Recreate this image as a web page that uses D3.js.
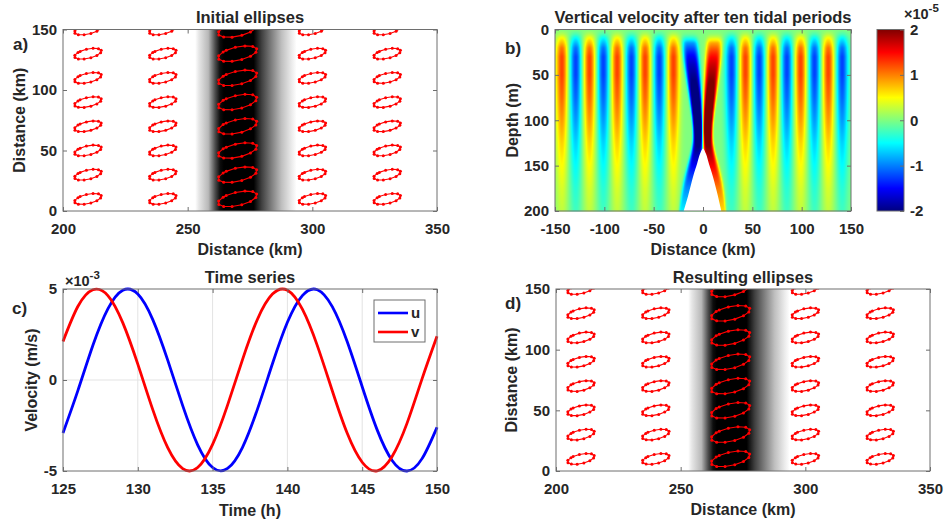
<!DOCTYPE html>
<html>
<head>
<meta charset="utf-8">
<script src="https://cdn.jsdelivr.net/npm/d3@7"></script>
<style>
  body { margin: 0; background: #fff; }
  svg { display: block; }
  text { font-family: "Liberation Sans", Arial, Helvetica, sans-serif; font-weight: bold; fill: #262626; }
</style>
</head>
<body>
<svg id="fig" width="944" height="522"></svg>
<script>
// ---------------- data ----------------
// time series, hours and velocities (units of 1e-3 m/s)
const hours = [125,126,127,128,129,130,131,132,133,134,135,136,137,138,139,140,141,142,143,144,145,146,147,148,149,150];
const uVel = [-2.91,-0.57,1.91,3.91,4.93,4.72,3.32,1.09,-1.41,-3.56,-4.81,-4.86,-3.70,-1.60,0.89,3.17,4.64,4.96,4.03,2.10,-0.37,-2.74,-4.42,-5.00,-4.32,-2.60];
const vVel = [2.12,4.05,4.96,4.64,3.14,0.87,-1.63,-3.72,-4.87,-4.81,-3.54,-1.38,1.12,3.34,4.72,4.93,3.89,1.89,-0.59,-2.93,-4.52,-4.99,-4.20,-2.37,0.06,2.40];
const seriesNames = ["u", "v"];
const seriesColors = ["#0000ff", "#ff0000"];

// tidal ellipse grid (km); hodograph scale per column (km per 1e-3 m/s), u and v
const ellipseCols = [210, 240, 270, 300, 330];
const ellipseRows = [10, 30, 50, 70, 90, 110, 130, 150];
const ellipseScaleU = [1.08, 1.08, 1.56, 1.08, 1.08];
const ellipseScaleV = [0.9, 0.9, 1.3, 0.9, 0.9];
const ellipseSamples = 13; // hourly points over one tidal period

// ridge shading (km across, gray level 0 = black, 1 = white)
const bandKm   = [253, 254.5, 258.3, 261, 263, 264.5, 276.5, 279.7, 283.7, 287.7, 291.7, 293.7];
const bandGray = [1.0, 0.9, 0.72, 0.3, 0.05, 0.0, 0.0, 0.25, 0.5, 0.75, 0.92, 1.0];

// vertical velocity section (units of 1e-5 m/s)
const crestKm   = [-143,-129,-115,-101,-87,-72.5,-58.7,-44.3,-30, 29,43,57,71,85,99,113,127,141];
const crestSign = [1,-1,1,-1,1,-1,1,-1,1, -1,1,-1,1,-1,1,-1,1,-1];
const crestWidth = 6.2;
const profDepth = [0, 5, 10, 20, 30, 50, 75, 100, 125, 150, 175, 200];
const profAmp   = [0, 0.2, 0.55, 1.05, 1.25, 1.25, 1.1, 0.9, 0.68, 0.5, 0.35, 0.25];
// beams over the ridge, sampled every 25 m from the surface to the bottom
const beamDepth  = [0, 25, 50, 75, 100, 125, 150, 175, 200];
const beamAmpNeg = [0, -1.6, -1.9, -2.3, -2.4, -2.4, -2.4, -2.2, -1.8];
const beamAmpPos = [0, 1.5, 1.9, 2.3, 2.4, 2.4, 2.4, 2.3, 2.1];
const beamXNeg   = [-14, -12.5, -10, -7.5, -5.5, -4, -8.5, -15, -21.5];
const beamXPos   = [12, 11, 9, 7, 5, 3.8, 8.5, 15, 20.5];
const beamHalfNeg = [8, 8, 7, 6, 5, 5, 7, 6.5, 3];
const beamHalfPos = [8, 8, 7, 6, 5, 5, 7, 6.5, 3];
const ridgeKm    = [-19.5, -15, -10, -6, -3, 0, 3, 6, 10, 15, 18.5];
const ridgeDepth = [200, 183, 162, 148, 137, 131, 137, 148, 162, 183, 200];

// jet colour map
const jetStops  = [-2, -1.5, -0.5, 0.5, 1.5, 2];
const jetColors = ["#000080", "#0000ff", "#00ffff", "#ffff00", "#ff0000", "#800000"];
const cbTicks = [-2, -1, 0, 1, 2];

// ---------------- layout ----------------
const svg = d3.select("#fig");
const TICK = 15, LABEL = 16, TITLE = 16.5, LETTER = 17;
const AXIS_COL = "#6e6e6e";

const panelA = {L: 63, R: 437, T: 29.5, B: 211};
const panelB = {L: 555, R: 851, T: 29.5, B: 211};
const panelC = {L: 63, R: 437, T: 289, B: 471};
const panelD = {L: 556, R: 930, T: 289, B: 471};
const cbar   = {L: 877, R: 904, T: 29.5, B: 211};

const fmt = d => String(d);

function drawAxes(p, x, y, xTicks, yTicks, pad) {
  const g = svg.append("g");
  const mk = (axis, tx, ty, labels) => {
    const a = g.append("g").attr("transform", `translate(${tx},${ty})`)
      .call(axis.tickSizeInner(-4).tickSizeOuter(0));
    a.select(".domain").remove();
    a.selectAll(".tick line").attr("stroke", AXIS_COL).attr("stroke-width", 1);
    a.attr("font-family", null).attr("font-size", TICK);
    if (!labels) a.selectAll(".tick text").remove();
    else a.selectAll(".tick text").attr("fill", "#262626");
    return a;
  };
  mk(d3.axisBottom(x).tickValues(xTicks).tickFormat(fmt).tickPadding(pad.x), 0, p.B, true);
  mk(d3.axisTop(x).tickValues(xTicks), 0, p.T, false);
  mk(d3.axisLeft(y).tickValues(yTicks).tickFormat(fmt).tickPadding(6), p.L, 0, true);
  mk(d3.axisRight(y).tickValues(yTicks), p.R, 0, false);
  g.append("rect").attr("x", p.L).attr("y", p.T).attr("width", p.R - p.L).attr("height", p.B - p.T)
    .attr("fill", "none").attr("stroke", AXIS_COL).attr("stroke-width", 1);
  return g;
}

function texts(p, title, xlab, ylab, ylabX, letter, letterPos, xlabY) {
  svg.append("text").attr("x", (p.L + p.R) / 2).attr("y", p.T - 6.5)
    .attr("text-anchor", "middle").attr("font-size", TITLE).text(title);
  svg.append("text").attr("x", (p.L + p.R) / 2).attr("y", xlabY)
    .attr("text-anchor", "middle").attr("font-size", LABEL).text(xlab);
  svg.append("text").attr("transform", `translate(${ylabX},${(p.T + p.B) / 2}) rotate(-90)`)
    .attr("dy", "0.35em").attr("text-anchor", "middle").attr("font-size", LABEL).text(ylab);
  svg.append("text").attr("x", letterPos[0]).attr("y", letterPos[1])
    .attr("font-size", LETTER).text(letter);
}

function exponent(x, y, txt) {
  const ex = svg.append("text").attr("x", x).attr("y", y).attr("font-size", 14.5);
  ex.append("tspan").text("\u00d710");
  ex.append("tspan").attr("dy", -7).attr("font-size", 11.5).text(txt);
}

const defs = svg.append("defs");

// ---------------- ellipse panels (a, d) ----------------
function ellipsePanel(p, id, title, letter, letterPos, ylabX) {
  const x = d3.scaleLinear().domain([200, 350]).range([p.L, p.R]);
  const y = d3.scaleLinear().domain([0, 150]).range([p.B, p.T]);

  defs.append("clipPath").attr("id", "clip" + id).append("rect")
    .attr("x", p.L).attr("y", p.T).attr("width", p.R - p.L).attr("height", p.B - p.T);

  const k0 = bandKm[0], k1 = bandKm[bandKm.length - 1];
  const grad = defs.append("linearGradient").attr("id", "band" + id)
    .attr("gradientUnits", "userSpaceOnUse")
    .attr("x1", x(k0)).attr("x2", x(k1)).attr("y1", 0).attr("y2", 0);
  bandKm.forEach((k, i) => {
    const v = Math.round(bandGray[i] * 255);
    grad.append("stop").attr("offset", (k - k0) / (k1 - k0)).attr("stop-color", d3.rgb(v, v, v));
  });

  const g = svg.append("g").attr("clip-path", `url(#clip${id})`);
  g.append("rect").attr("x", x(k0)).attr("y", p.T)
    .attr("width", x(k1) - x(k0)).attr("height", p.B - p.T)
    .attr("fill", `url(#band${id})`);

  const line = d3.line().x(d => x(d[0])).y(d => y(d[1]));
  ellipseCols.forEach((cx, ci) => {
    const su = ellipseScaleU[ci], sv = ellipseScaleV[ci];
    ellipseRows.forEach(cy => {
      const pts = d3.range(ellipseSamples).map(i => [cx + su * uVel[i], cy + sv * vVel[i]]);
      g.append("path").attr("d", line(pts) + "Z")
        .attr("fill", "none").attr("stroke", "#ff0000").attr("stroke-width", 1.1);
      g.selectAll(null).data(pts).enter().append("circle")
        .attr("cx", d => x(d[0])).attr("cy", d => y(d[1])).attr("r", 1.5).attr("fill", "#ff0000");
    });
  });

  drawAxes(p, x, y, [200, 250, 300, 350], [0, 50, 100, 150], {x: 12});
  texts(p, title, "Distance (km)", "Distance (km)", ylabX, letter, letterPos, p.B + 44);
}

ellipsePanel(panelA, "a", "Initial ellipses", "a)", [13, 50], 19);
ellipsePanel(panelD, "d", "Resulting ellipses", "d)", [505, 309], 511);

// ---------------- vertical velocity panel (b) ----------------
{
  const p = panelB;
  const x = d3.scaleLinear().domain([-150, 150]).range([p.L, p.R]);
  const y = d3.scaleLinear().domain([0, 200]).range([p.T, p.B]);
  const jet = d3.scaleLinear().domain(jetStops).range(jetColors).clamp(true);

  const prof = d3.scaleLinear().domain(profDepth).range(profAmp).clamp(true);
  const zMax = beamDepth[beamDepth.length - 1];
  const smooth = arr => { const f = d3.interpolateBasis(arr); return z => f(Math.max(0, Math.min(1, z / zMax))); };
  const bNegA = smooth(beamAmpNeg), bPosA = smooth(beamAmpPos);
  const bNegX = smooth(beamXNeg), bPosX = smooth(beamXPos);
  const bNegW = smooth(beamHalfNeg), bPosW = smooth(beamHalfPos);

  const w = Math.round(p.R - p.L), h = Math.round(p.B - p.T);
  const canvas = document.createElement("canvas");
  canvas.width = w; canvas.height = h;
  const ctx = canvas.getContext("2d");
  const img = ctx.createImageData(w, h);
  for (let j = 0; j < h; j++) {
    const z = y.invert(p.T + j + 0.5);
    const a = prof(z), taper = Math.min(1, prof(z) / 1.25 * 1.6);
    const an = bNegA(z) * taper, ap = bPosA(z) * taper;
    const xn = bNegX(z), xp = bPosX(z), wn = bNegW(z), wp = bPosW(z);
    for (let i = 0; i < w; i++) {
      const xk = x.invert(p.L + i + 0.5);
      let val = 0;
      for (let k = 0; k < crestKm.length; k++) {
        const d = (xk - crestKm[k]) / crestWidth;
        val += crestSign[k] * a * Math.exp(-d * d);
      }
      // flat-topped beam cross-sections
      const dn = (xk - xn) / wn, dp = (xk - xp) / wp;
      val += an * Math.exp(-dn * dn * dn * dn) + ap * Math.exp(-dp * dp * dp * dp);
      const c = d3.rgb(jet(val));
      const o = 4 * (j * w + i);
      img.data[o] = c.r; img.data[o + 1] = c.g; img.data[o + 2] = c.b; img.data[o + 3] = 255;
    }
  }
  ctx.putImageData(img, 0, 0);
  svg.append("image").attr("x", p.L).attr("y", p.T).attr("width", w).attr("height", h)
    .attr("preserveAspectRatio", "none").attr("href", canvas.toDataURL());

  // ridge
  const area = d3.area().x((d, i) => x(ridgeKm[i])).y0(y(200)).y1((d, i) => y(ridgeDepth[i]))
    .curve(d3.curveCatmullRom);
  svg.append("path").attr("d", area(ridgeKm)).attr("fill", "#ffffff");

  drawAxes(p, x, y, [-150, -100, -50, 0, 50, 100, 150], [0, 50, 100, 150, 200], {x: 12});
  texts(p, "Vertical velocity after ten tidal periods", "Distance (km)", "Depth (m)", 512, "b)", [505, 54], p.B + 44);

  // colour bar
  const cy = d3.scaleLinear().domain([-2, 2]).range([cbar.B, cbar.T]);
  const cg = defs.append("linearGradient").attr("id", "jetbar").attr("gradientUnits", "userSpaceOnUse")
    .attr("x1", 0).attr("x2", 0).attr("y1", cbar.B).attr("y2", cbar.T);
  jetStops.forEach((s, i) => cg.append("stop").attr("offset", (s + 2) / 4).attr("stop-color", jetColors[i]));
  svg.append("rect").attr("x", cbar.L).attr("y", cbar.T).attr("width", cbar.R - cbar.L)
    .attr("height", cbar.B - cbar.T).attr("fill", "url(#jetbar)");
  const ca = svg.append("g").attr("transform", `translate(${cbar.R},0)`)
    .call(d3.axisRight(cy).tickValues(cbTicks).tickFormat(fmt).tickSizeInner(-4).tickSizeOuter(0).tickPadding(6));
  ca.select(".domain").remove();
  ca.attr("font-family", null).attr("font-size", TICK);
  ca.selectAll(".tick line").attr("stroke", AXIS_COL);
  ca.selectAll(".tick text").attr("fill", "#262626");
  svg.append("rect").attr("x", cbar.L).attr("y", cbar.T).attr("width", cbar.R - cbar.L)
    .attr("height", cbar.B - cbar.T).attr("fill", "none").attr("stroke", AXIS_COL);
  exponent(904, 19, "-5");
}

// ---------------- time series panel (c) ----------------
{
  const p = panelC;
  const x = d3.scaleLinear().domain([125, 150]).range([p.L, p.R]);
  const y = d3.scaleLinear().domain([-5, 5]).range([p.B, p.T]);
  const xt = [125, 130, 135, 140, 145, 150], yt = [-5, 0, 5];

  const grid = svg.append("g").attr("stroke", "#e3e3e3").attr("stroke-width", 1);
  xt.slice(1, -1).forEach(v => grid.append("line").attr("x1", x(v)).attr("x2", x(v)).attr("y1", p.T).attr("y2", p.B));
  [0].forEach(v => grid.append("line").attr("x1", p.L).attr("x2", p.R).attr("y1", y(v)).attr("y2", y(v)));

  const line = d3.line().x((d, i) => x(hours[i])).y(d => y(d)).curve(d3.curveNatural);
  [uVel, vVel].forEach((s, k) => {
    svg.append("path").attr("d", line(s)).attr("fill", "none")
      .attr("stroke", seriesColors[k]).attr("stroke-width", 2.8);
  });

  drawAxes(p, x, y, xt, yt, {x: 12});
  texts(p, "Time series", "Time (h)", "Velocity (m/s)", 31, "c)", [12, 314], p.B + 45);
  exponent(65, 286, "-3");

  // legend
  const lg = svg.append("g");
  lg.append("rect").attr("x", 374).attr("y", 300).attr("width", 51).attr("height", 42)
    .attr("fill", "#fff").attr("stroke", AXIS_COL);
  seriesNames.forEach((n, k) => {
    const yy = 313 + k * 19;
    lg.append("line").attr("x1", 378).attr("x2", 408).attr("y1", yy).attr("y2", yy)
      .attr("stroke", seriesColors[k]).attr("stroke-width", 2.6);
    lg.append("text").attr("x", 411).attr("y", yy).attr("dy", "0.35em").attr("font-size", TICK).text(n);
  });
}
</script>
</body>
</html>
